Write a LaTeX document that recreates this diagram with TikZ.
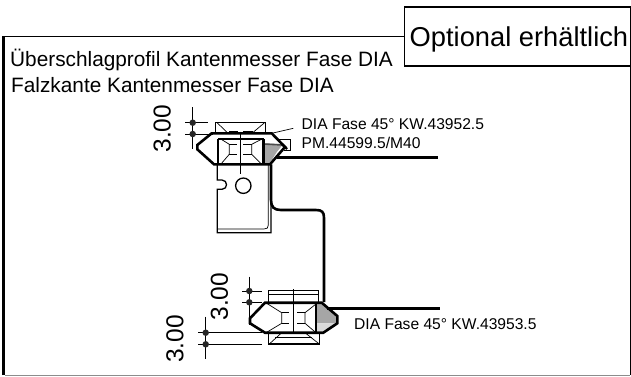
\documentclass[tikz,border=0pt]{standalone}
\usepackage{fontspec}
\setmainfont{Liberation Sans}
\usetikzlibrary{positioning}

\tikzset{
  thinline/.style={line width=0.7pt},
  medline/.style={line width=1.3pt},
  heavyline/.style={line width=2.6pt},
  dimdot/.style={circle, fill=black!85, inner sep=0pt, minimum size=6.5pt},
  dimtext/.style={font=\fontsize{24.5}{24.5}\selectfont, rotate=90, inner sep=0pt},
  headtext/.style={font=\fontsize{20.8}{20.8}\selectfont, anchor=base west, inner sep=0pt},
  parttext/.style={font=\fontsize{15.6}{15.6}\selectfont, anchor=base west, inner sep=0pt}
}

\begin{document}
\begin{tikzpicture}[x=1pt, y=-1pt]
    \useasboundingbox (0, 0) rectangle (631, 376);

    % frame
    \draw[line width=1.5pt] (3.5, 36.7) -- (403.5, 36.7);
    \draw[line width=2.2pt] (3.5, 375) -- (3.5, 36);
    \draw[thinline] (630, 65) -- (630, 375);
    \draw[line width=1.2pt, black!45] (5, 375.3) -- (630, 375.3);
    \node[draw, line width=1.6pt, minimum width=226.5pt, minimum height=59pt, anchor=north west, inner sep=0pt] (optbox) at (403.5, 6) {};
    \node[font=\fontsize{27.3}{27.3}\selectfont, inner sep=0pt, anchor=base west] (opttext) at (409.5, 46.7) {Optional erhältlich};

    \node[headtext] (headone) at (10, 66) {Überschlagprofil Kantenmesser Fase DIA};
    \node[headtext] (headtwo) at (11, 92.7) {Falzkante Kantenmesser Fase DIA};

    % upper knife
    \fill[black!35] (264, 143.3) -- (283, 144.3) -- (277, 151.7) -- (271.7, 160) -- (268.3, 164.3) -- (264, 164.3) -- cycle;
    \draw[line width=1.6pt, black!70] (264, 144) -- (283, 145);
    \draw[medline] (215.7, 133.3) -- (215.7, 122.3) -- (265.7, 122.3) -- (265.7, 133.3);
    \draw[thinline] (216.7, 122.3) -- (228, 133.3) (265, 122.3) -- (252, 133.3);
    \draw[medline] (229, 131.7) -- (238, 131.7) (243, 131.7) -- (253, 131.7);
    \draw[heavyline] (197.3, 149.3) -- (197.3, 145) -- (211.7, 133.3) -- (271.7, 133.3) -- (285, 147) -- (270, 164.3) -- (214, 164.3) -- cycle;
    \draw[heavyline] (218, 164.3) -- (218, 139);
    \draw[heavyline] (263.5, 164.3) -- (263.5, 139);
    \draw[medline] (218, 139) -- (263.5, 139);
    \draw[thinline] (277, 139) -- (290, 139) -- (290, 150) -- (284, 150);
    \draw[line width=2.4pt] (282, 144) -- (287, 149);
    \draw[thinline] (220.7, 139) -- (229.3, 144.3) -- (229.3, 154.3) -- (220.7, 164.3);
    \draw[thinline] (262, 139) -- (251.7, 144.3) -- (251.7, 154.3) -- (261.7, 164.3);
    \draw[thinline] (229.3, 144.3) -- (236.7, 144.3) (243.3, 144.3) -- (251.7, 144.3);
    \draw[thinline] (229.3, 154.3) -- (236.7, 154.3) (243.3, 154.3) -- (251.7, 154.3);

    % upper holder
    \draw[medline] (217.3, 164.3) -- (217.3, 180) -- (222, 180) .. controls (228, 180) and (228, 189.3) .. (222, 189.3) -- (217.3, 189.3) -- (217.3, 232.7) -- (271, 232.7) -- (271, 200);
    \draw[thinline] (217.3, 229) -- (264, 229) .. controls (267, 229) and (268.3, 228) .. (268.3, 225) -- (268.3, 164.3);
    \draw[medline] (243.3, 185.7) circle (7.7);
    \draw[thinline] (240.7, 131.7) -- (240.7, 174);
    \draw[heavyline] (277, 157.5) -- (438, 157.5);
    \draw[heavyline] (271, 164.3) -- (271, 200) .. controls (271, 207) and (274, 210) .. (281, 210) -- (316, 210) .. controls (322, 210) and (324, 212) .. (324, 218) -- (324, 302);

    % leader
    \coordinate (leadstart) at (271.7, 133.3);
    \coordinate (leadend) at (293.3, 128.3);
    \draw[thinline] (leadstart) -- (leadend);
    \node[parttext] (partone) at (301.5, 129.3) {DIA Fase 45° KW.43952.5};
    \node[parttext] (parttwo) at (301.5, 148.3) {PM.44599.5/M40};

    % upper dimension
    \draw[thinline] (192.7, 107) -- (192.7, 149.3);
    \draw[thinline] (185, 122.7) -- (208, 122.7) (185, 134) -- (213, 134);
    \node[dimdot] (dotone) at (192.7, 122.7) {};
    \node[dimdot] (dottwo) at (192.7, 134) {};
    \node[dimtext] (dimone) at (162.3, 128.7) {3.00};

    % lower knife
    \fill[black!35] (316.7, 304) -- (322.7, 304) -- (336.7, 317.3) -- (336.7, 323.3) -- (316.7, 323.3) -- cycle;
    \fill[black!15] (316.7, 323.3) -- (336.7, 323.3) -- (325, 331) -- (316.7, 331) -- cycle;
    \draw[medline] (268.3, 302.7) -- (268.3, 290.7) -- (318.3, 290.7) -- (318.3, 302.7);
    \draw[medline] (268.3, 294.5) -- (318.3, 294.5);
    \draw[heavyline] (250, 323.3) -- (250, 318.3) -- (265, 302.7) -- (321.7, 302.7) -- (337.3, 316) -- (337.3, 323.3) -- (323.3, 332.7) -- (265, 332.7) -- cycle;
    \draw[medline] (268.3, 332.7) -- (268.3, 344) -- (319.3, 344) -- (319.3, 332.7);
    \draw[medline] (316, 302.7) -- (316, 332.7);
    \draw[thinline] (266.7, 303.3) -- (281.7, 312.7) -- (281.7, 323.3) -- (266, 332.7);
    \draw[thinline] (316, 304) -- (305, 312.7) -- (305, 323.3) -- (316, 332.7);
    \draw[thinline] (281.7, 312.7) -- (289.3, 312.7) (297.3, 312.7) -- (305, 312.7);
    \draw[thinline] (281.7, 323.3) -- (289.3, 323.3) (297.3, 323.3) -- (305, 323.3);
    \draw[thinline] (269.3, 344) -- (281.7, 332.7) (319.3, 344) -- (305, 332.7);
    \draw[thinline] (275, 337.7) -- (311.7, 337.7);
    \draw[thinline] (293.3, 289) -- (293.3, 334);
    \draw[heavyline] (327, 308.3) -- (440, 308.3);
    \node[parttext] (partthree) at (354, 329.3) {DIA Fase 45° KW.43953.5};

    % lower dimensions
    \draw[thinline] (249.3, 276.7) -- (249.3, 325);
    \draw[thinline] (242, 291) -- (262, 291) (242, 302.3) -- (262, 302.3);
    \node[dimdot] (dotthree) at (249.3, 291) {};
    \node[dimdot] (dotfour) at (249.3, 302.3) {};
    \node[dimtext] (dimtwo) at (219.5, 296.7) {3.00};
    \draw[thinline] (205.7, 316.7) -- (205.7, 359.3);
    \draw[thinline] (198, 332.7) -- (261.7, 332.7) (198, 344.3) -- (261.7, 344.3);
    \node[dimdot] (dotfive) at (205.7, 332.7) {};
    \node[dimdot] (dotsix) at (205.7, 344.3) {};
    \node[dimtext] (dimthree) at (175, 338.8) {3.00};
\end{tikzpicture}
\end{document}
